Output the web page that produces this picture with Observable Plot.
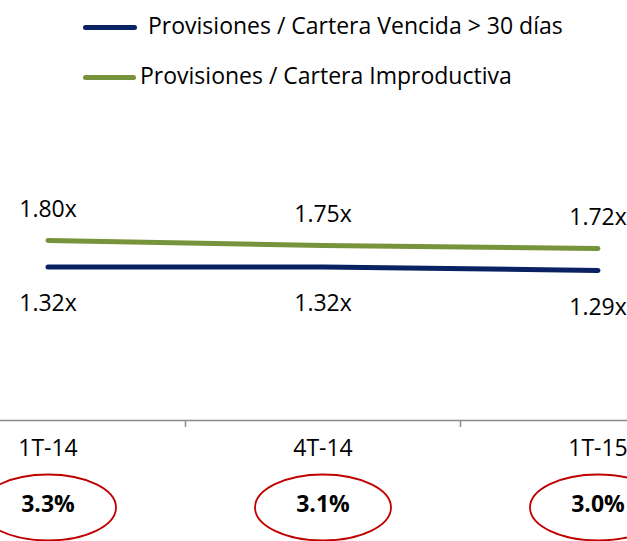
<!DOCTYPE html>
<html><head><meta charset="utf-8">
<script src="https://cdn.jsdelivr.net/npm/d3@7"></script>
<script src="https://cdn.jsdelivr.net/npm/@observablehq/plot@0.6"></script>
<style>
html,body{margin:0;padding:0;background:#fff;overflow:hidden;}
body{width:627px;height:541px;font-family:"Open Sans",sans-serif;}
#legend{position:relative;height:100px;}
.sw{position:absolute;height:5px;border-radius:3px;}
.lt{position:absolute;font-size:23px;color:#000;line-height:1;white-space:nowrap;transform:translateY(-50%);}
</style></head><body>
<div id="legend"></div>
<div id="chart"></div>
<script>
const categories = ["1T-14", "4T-14", "1T-15"];
const seriesNames = ["Provisiones / Cartera Vencida > 30 días", "Provisiones / Cartera Improductiva"];
const vencida = [1.32, 1.32, 1.29];
const improductiva = [1.80, 1.75, 1.72];
const carteraPct = [3.3, 3.1, 3.0];
const colors = ["#0A2263", "#77933C"];

// legend
const legend = document.getElementById("legend");
const legendPos = [{sx: 83, sw: 54, y: 27, tx: 148}, {sx: 83, sw: 53, y: 77, tx: 140}];
seriesNames.forEach((name, k) => {
  const p = legendPos[k];
  const s = document.createElement("div");
  s.className = "sw";
  s.style.cssText = `left:${p.sx}px;width:${p.sw}px;top:${p.y - 2.5}px;background:${colors[k]}`;
  legend.appendChild(s);
  const t = document.createElement("div");
  t.className = "lt";
  t.style.cssText = `left:${p.tx}px;top:${p.y - 2}px`;
  t.textContent = name;
  legend.appendChild(t);
});

// secondary axis (Vencida) mapped onto primary axis units
const y2 = d3.scaleLinear([0, 2.2], [0, 2.56]);
const rows = categories.map((c, i) => ({i, cat: c, ven: vencida[i], imp: improductiva[i], pct: carteraPct[i]}));

const ellipse = {
  draw(ctx, size) {
    const rx = Math.sqrt(size / Math.PI), ry = rx * 33 / 68, k = 0.5523;
    ctx.moveTo(rx, 0);
    ctx.bezierCurveTo(rx, k * ry, k * rx, ry, 0, ry);
    ctx.bezierCurveTo(-k * rx, ry, -rx, k * ry, -rx, 0);
    ctx.bezierCurveTo(-rx, -k * ry, -k * rx, -ry, 0, -ry);
    ctx.bezierCurveTo(k * rx, -ry, rx, -k * ry, rx, 0);
    ctx.closePath();
  }
};

const chart = Plot.plot({
  width: 627, height: 441,
  marginLeft: 0, marginRight: 0, marginTop: 60, marginBottom: 121,
  x: {type: "linear", domain: [-0.5, 2.5], range: [-90, 735], axis: null},
  y: {domain: [0, 2.6], axis: null},
  style: {fontFamily: "'Open Sans', sans-serif", color: "#000", background: "transparent", overflow: "visible"},
  marks: [
    Plot.ruleY([0], {stroke: "#8c8c8c", strokeWidth: 1.5}),
    Plot.ruleX([0.5, 1.5], {y1: 0, y2: -0.07, stroke: "#8c8c8c", strokeWidth: 1.5}),
    Plot.line(rows, {x: "i", y: "imp", stroke: colors[1], strokeWidth: 5, strokeLinecap: "round"}),
    Plot.line(rows, {x: "i", y: d => y2(d.ven), stroke: colors[0], strokeWidth: 5, strokeLinecap: "round"}),
    Plot.text(rows, {x: "i", y: "imp", text: d => d.imp.toFixed(2) + "x", dy: -31, fontSize: 23, fill: "#000"}),
    Plot.text(rows, {x: "i", y: d => y2(d.ven), text: d => d.ven.toFixed(2) + "x", dy: 37, fontSize: 23, fill: "#000"}),
    Plot.text(rows, {x: "i", text: "cat", frameAnchor: "bottom", dy: 35, fontSize: 23, fill: "#000"}),
    Plot.dot(rows, {x: "i", frameAnchor: "bottom", dy: 87, r: 68, symbol: ellipse, stroke: "#C00000", strokeWidth: 1.8, fill: "none"}),
    Plot.text(rows, {x: "i", text: d => d.pct.toFixed(1) + "%", frameAnchor: "bottom", dy: 91, fontSize: 23, fontWeight: "bold", fill: "#000"})
  ]
});
document.getElementById("chart").appendChild(chart);
</script>
</body></html>
